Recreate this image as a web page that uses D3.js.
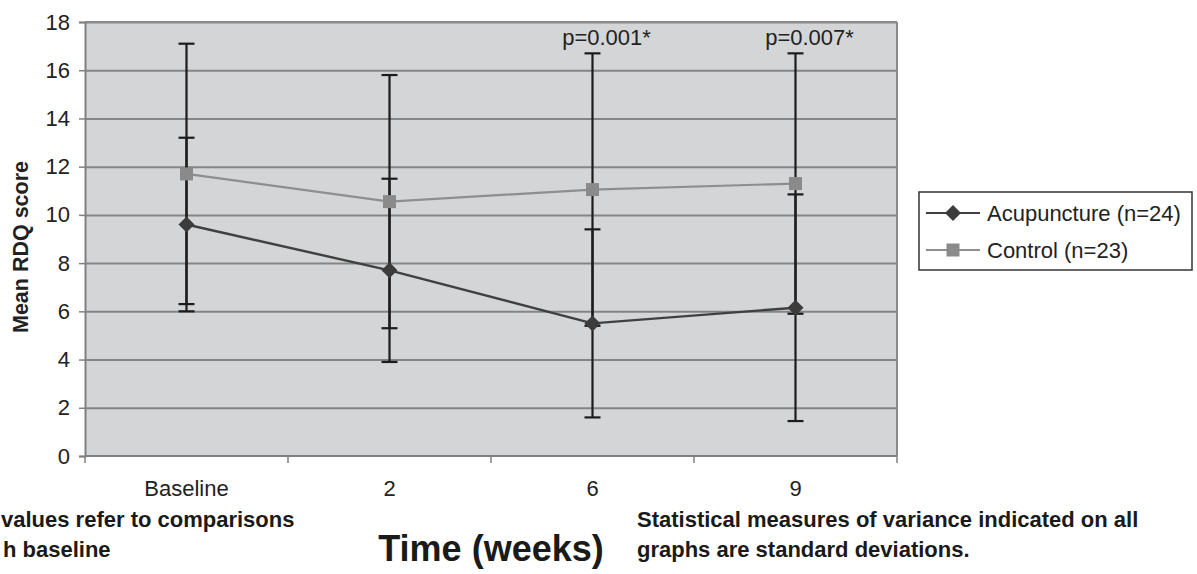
<!DOCTYPE html>
<html>
<head>
<meta charset="utf-8">
<script src="https://cdn.jsdelivr.net/npm/d3@7"></script>
<style>
  html, body { margin: 0; padding: 0; background: #ffffff; }
  svg { display: block; font-family: "Liberation Sans", Arial, Helvetica, sans-serif; }
</style>
</head>
<body>
<svg id="chart" width="1197" height="574"></svg>
<script>
// ---- data ----
const categories = ["Baseline", "2", "6", "9"];
const acuMean = [9.6, 7.7, 5.5, 6.15];
const acuSD   = [3.6, 3.8, 3.9, 4.7];
const ctrlMean = [11.7, 10.55, 11.05, 11.3];
const ctrlSD   = [5.4, 5.25, 5.65, 5.4];
const pLabels = ["", "", "p=0.001*", "p=0.007*"];
const yTicks = [0, 2, 4, 6, 8, 10, 12, 14, 16, 18];
const seriesNames = ["Acupuncture (n=24)", "Control (n=23)"];

// ---- layout ----
const svg = d3.select("#chart");
const L = 85, R = 897, T = 22, B = 456;

const x = d3.scaleBand().domain(categories).range([L, R]).paddingInner(0).paddingOuter(0);
const y = d3.scaleLinear().domain([0, 18]).range([B, T]);
const cx = c => x(c) + x.bandwidth() / 2;

// plot background
svg.append("rect").attr("x", L).attr("y", T).attr("width", R - L).attr("height", B - T)
  .attr("fill", "#d4d5d7");

// gridlines
svg.append("g").attr("transform", `translate(${L},0)`)
  .call(d3.axisLeft(y).tickValues(yTicks.filter(v => v > 0)).tickSize(-(R - L)).tickFormat(""))
  .call(g => g.select(".domain").remove())
  .call(g => g.selectAll("line").attr("stroke", "#858585").attr("stroke-width", 2));

// plot border (top / right)
svg.append("line").attr("x1", L).attr("x2", R).attr("y1", T).attr("y2", T)
  .attr("stroke", "#8a8a8a").attr("stroke-width", 2);
svg.append("line").attr("x1", R).attr("x2", R).attr("y1", T).attr("y2", B)
  .attr("stroke", "#8a8a8a").attr("stroke-width", 2);

// y axis
const yAxis = svg.append("g").attr("transform", `translate(${L},0)`)
  .call(d3.axisLeft(y).tickValues(yTicks).tickSize(6).tickPadding(9));
yAxis.select(".domain").attr("stroke", "#808080").attr("stroke-width", 2);
yAxis.selectAll(".tick line").attr("stroke", "#808080").attr("stroke-width", 1.5);
yAxis.selectAll("text").attr("font-size", 22).attr("fill", "#222")
  .attr("font-family", "'Liberation Sans', Arial, sans-serif");

// x axis
const xAxisG = svg.append("g");
xAxisG.append("line").attr("x1", L).attr("x2", R).attr("y1", B).attr("y2", B)
  .attr("stroke", "#808080").attr("stroke-width", 2);
const edges = categories.map(c => x(c)).concat([R]);
xAxisG.selectAll("line.xt").data(edges).join("line").attr("class", "xt")
  .attr("x1", d => d).attr("x2", d => d).attr("y1", B).attr("y2", B + 7)
  .attr("stroke", "#808080").attr("stroke-width", 1.5);
xAxisG.selectAll("text").data(categories).join("text")
  .attr("x", d => cx(d)).attr("y", 496).attr("text-anchor", "middle")
  .attr("font-size", 22).attr("fill", "#222").text(d => d);

// error bars
function errorBars(means, sds) {
  const g = svg.append("g").attr("stroke", "#1c1c1c").attr("stroke-width", 2.2);
  categories.forEach((c, i) => {
    const X = cx(c), lo = y(means[i] - sds[i]), hi = y(means[i] + sds[i]);
    g.append("line").attr("x1", X).attr("x2", X).attr("y1", lo).attr("y2", hi);
    g.append("line").attr("x1", X - 8).attr("x2", X + 8).attr("y1", lo).attr("y2", lo);
    g.append("line").attr("x1", X - 8).attr("x2", X + 8).attr("y1", hi).attr("y2", hi);
  });
}
errorBars(ctrlMean, ctrlSD);
errorBars(acuMean, acuSD);

// lines
const line = d3.line().x((d, i) => cx(categories[i])).y(d => y(d));
svg.append("path").datum(ctrlMean).attr("d", line).attr("fill", "none")
  .attr("stroke", "#8e8e8e").attr("stroke-width", 2.2);
svg.append("path").datum(acuMean).attr("d", line).attr("fill", "none")
  .attr("stroke", "#404040").attr("stroke-width", 2.4);

// markers
const sq = 13, dm = 8;
svg.append("g").selectAll("rect").data(ctrlMean).join("rect")
  .attr("x", (d, i) => cx(categories[i]) - sq / 2).attr("y", d => y(d) - sq / 2)
  .attr("width", sq).attr("height", sq).attr("fill", "#8a8a8a");
const diamond = (X, Y) => `M${X},${Y - dm}L${X + dm},${Y}L${X},${Y + dm}L${X - dm},${Y}Z`;
svg.append("g").selectAll("path").data(acuMean).join("path")
  .attr("d", (d, i) => diamond(cx(categories[i]), y(d))).attr("fill", "#3c3c3c");

// p-value labels
svg.append("g").selectAll("text").data(pLabels).join("text")
  .attr("x", (d, i) => cx(categories[i]) + 14)
  .attr("y", (d, i) => y(ctrlMean[i] + ctrlSD[i]) - 8)
  .attr("text-anchor", "middle").attr("font-size", 22).attr("fill", "#222")
  .text(d => d);

// y-axis title
svg.append("text").attr("transform", "translate(28,247) rotate(-90)")
  .attr("text-anchor", "middle").attr("font-size", 21.5).attr("font-weight", "bold")
  .attr("fill", "#222").text("Mean RDQ score");

// legend
const lg = svg.append("g");
lg.append("rect").attr("x", 919).attr("y", 192).attr("width", 273).attr("height", 78)
  .attr("fill", "#fff").attr("stroke", "#333").attr("stroke-width", 1.5);
const rows = [213, 250];
seriesNames.forEach((name, i) => {
  const ry = rows[i];
  lg.append("line").attr("x1", 926).attr("x2", 980).attr("y1", ry).attr("y2", ry)
    .attr("stroke", i === 0 ? "#404040" : "#8e8e8e").attr("stroke-width", 2);
  if (i === 0) lg.append("path").attr("d", diamond(953, ry)).attr("fill", "#3c3c3c");
  else lg.append("rect").attr("x", 953 - sq / 2).attr("y", ry - sq / 2)
    .attr("width", sq).attr("height", sq).attr("fill", "#8a8a8a");
  lg.append("text").attr("x", 987).attr("y", ry + 8).attr("font-size", 22)
    .attr("fill", "#222").text(name);
});

// x-axis title
svg.append("text").attr("x", 491).attr("y", 561).attr("text-anchor", "middle")
  .attr("font-size", 36).attr("font-weight", "bold").attr("fill", "#1a1a1a")
  .text("Time (weeks)");

// notes (the left note is cropped by the figure edge in the reference)
const noteL = ["values refer to comparisons", "h baseline"];
const noteR = ["Statistical measures of variance indicated on all", "graphs are standard deviations."];
svg.append("g").selectAll("text").data(noteL).join("text")
  .attr("x", (d, i) => i === 0 ? 1 : 3).attr("y", (d, i) => 527 + i * 30).attr("font-size", 22)
  .attr("font-weight", "bold").attr("fill", "#1a1a1a").text(d => d);
svg.append("g").selectAll("text").data(noteR).join("text")
  .attr("x", 637).attr("y", (d, i) => 527 + i * 30).attr("font-size", 22)
  .attr("font-weight", "bold").attr("fill", "#1a1a1a").text(d => d);
</script>
</body>
</html>
